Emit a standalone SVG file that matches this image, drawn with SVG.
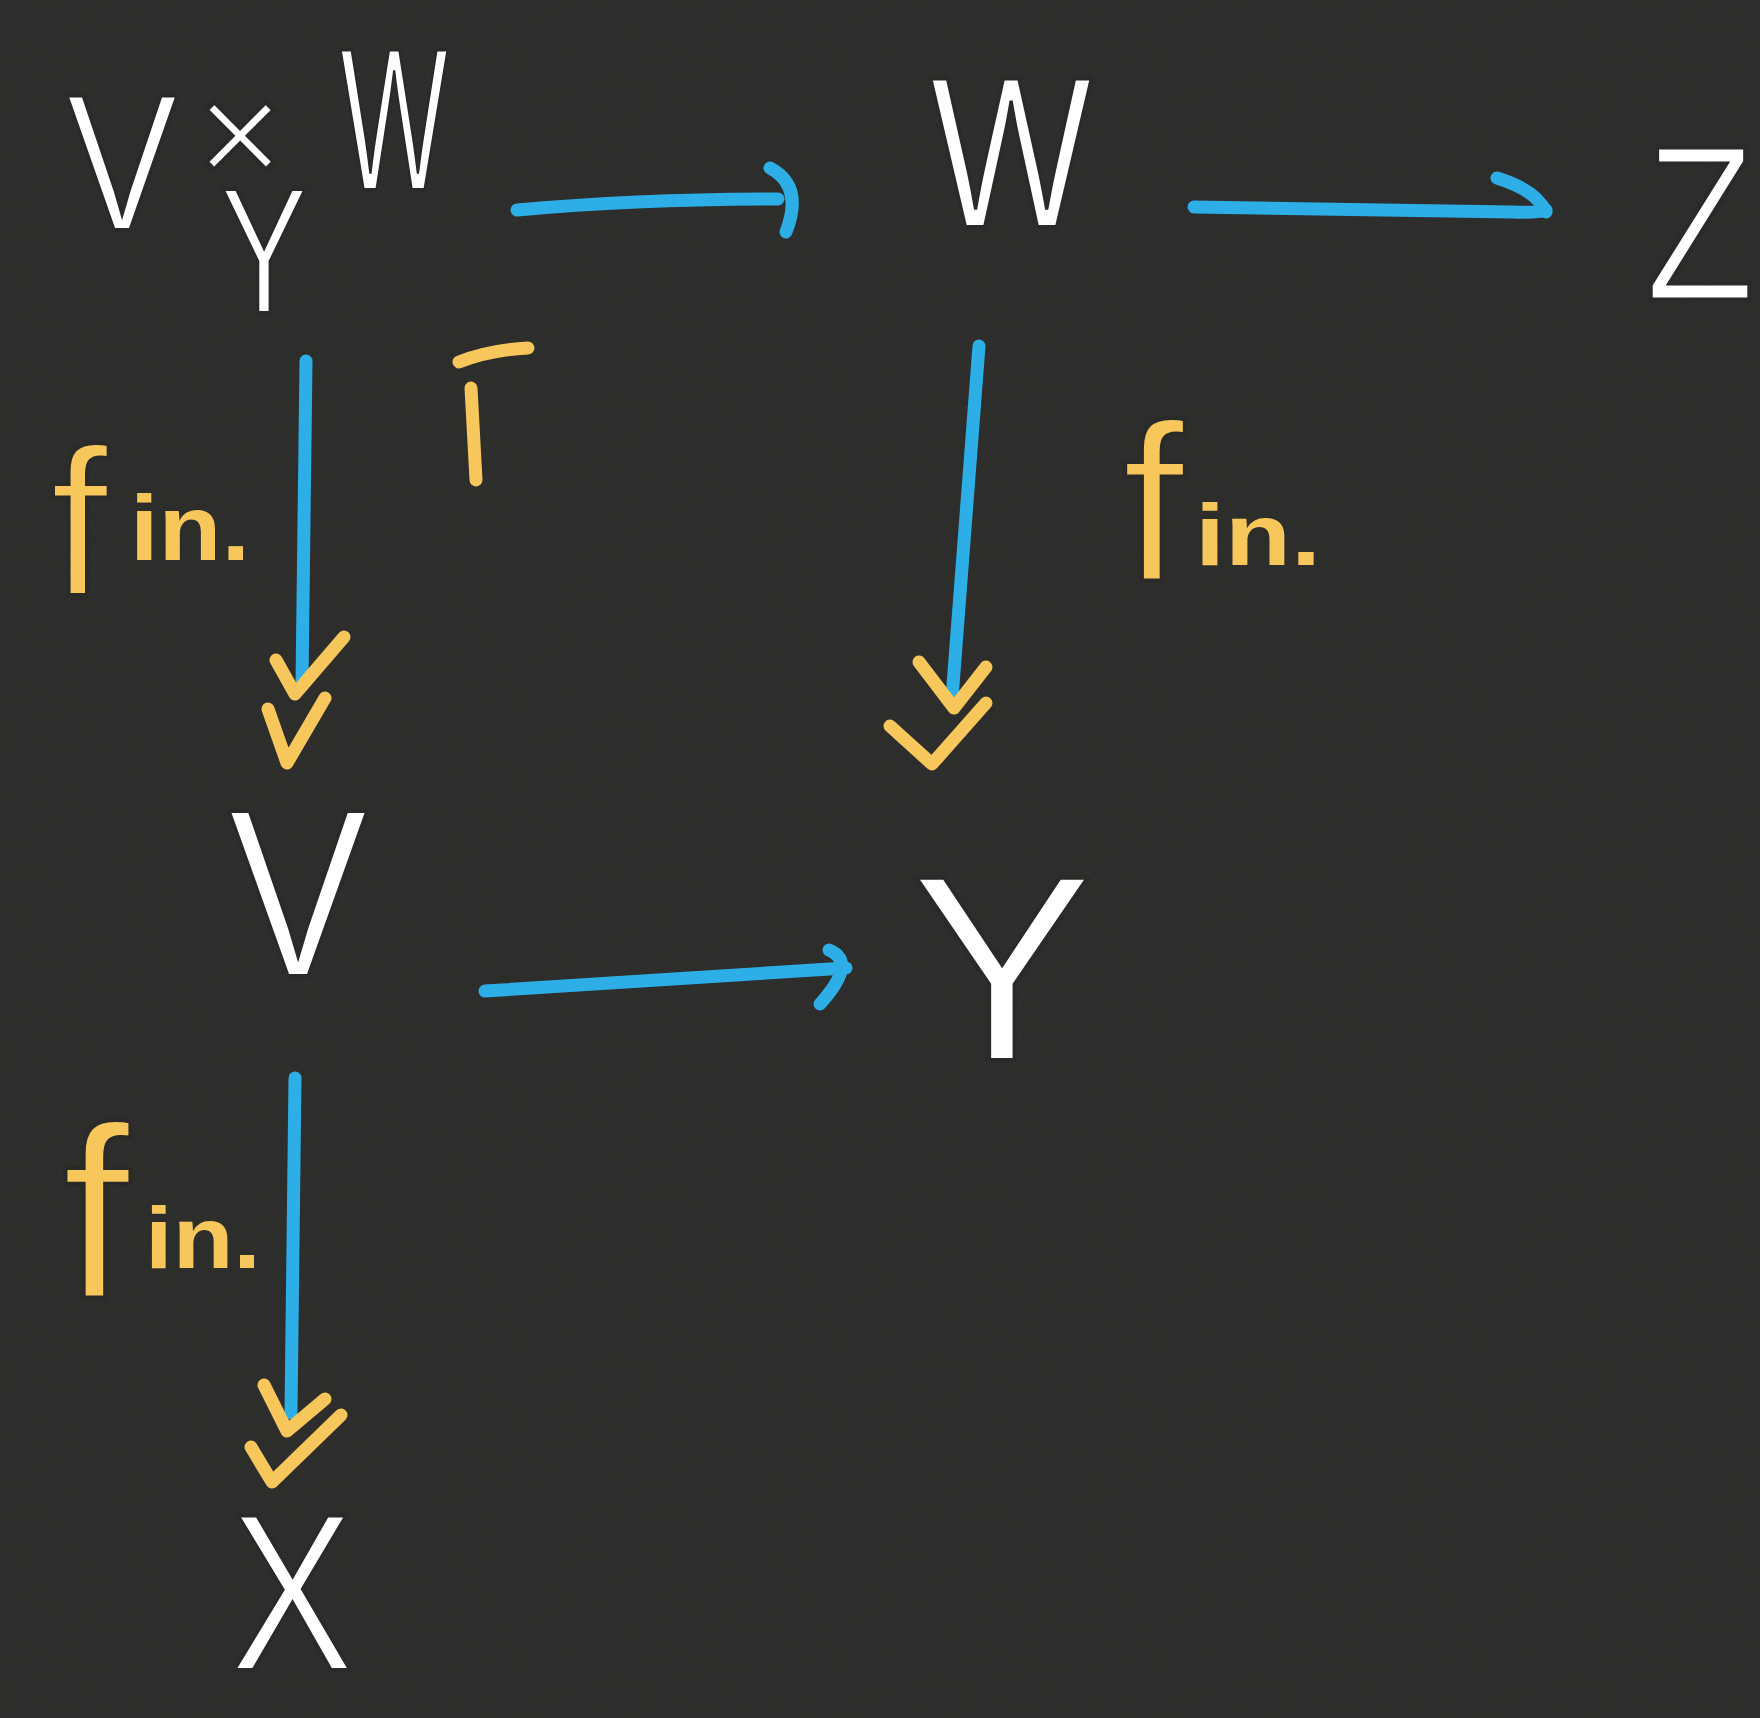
<svg xmlns="http://www.w3.org/2000/svg" width="1760" height="1718" viewBox="0 0 1760 1718">
<defs>
<filter id="grain" x="0" y="0" width="100%" height="100%">
  <feTurbulence type="fractalNoise" baseFrequency="0.8" numOctaves="2" seed="3" result="t"/>
  <feColorMatrix in="t" type="matrix" values="0 0 0 0 0.5  0 0 0 0 0.5  0 0 0 0 0.5  0.6 0 0 0 -0.1"/>
</filter>
</defs>
<style>
.n{font-family:"Liberation Sans",Arial,sans-serif;fill:#ffffff;stroke:#2a2a29;stroke-width:4;paint-order:normal}
.f{font-family:"Liberation Sans",Arial,sans-serif;fill:#f7c75b;stroke:#2a2a29;stroke-width:4;paint-order:normal}
.i{font-family:"Liberation Sans",Arial,sans-serif;font-weight:bold;fill:#f7c75b}
.b{fill:none;stroke:#2daee6;stroke-width:13;stroke-linecap:round;stroke-linejoin:round}
.y{fill:none;stroke:#f7c75b;stroke-width:13;stroke-linecap:round;stroke-linejoin:round}
</style>
<rect width="1760" height="1718" fill="#2a2a29"/>
<rect width="1760" height="1718" filter="url(#grain)" opacity="0.12"/>
<g id="connectors">
  <g id="e-A-B"><path class="b" d="M517 210 Q640 199 778 199"/><path class="b" d="M770 168 Q804 186 786 232"/></g>
  <g id="e-B-C"><path class="b" d="M1194 207 L1512 212 Q1538 213 1546 210"/><path class="b" d="M1497 178 Q1536 190 1546 212"/></g>
  <g id="e-A-D"><path class="b" d="M306 361 L302 683"/><path class="y" d="M276 660 L295 694 L344 637"/><path class="y" d="M268 709 L287 763 L325 698"/></g>
  <g id="e-B-E"><path class="b" d="M979 346 L952 698"/><path class="y" d="M919 662 L954 708 L986 667"/><path class="y" d="M890 726 L932 764 L986 703"/></g>
  <g id="e-D-E"><path class="b" d="M485 991 L846 968"/><path class="b" d="M829 950 Q858 962 820 1004"/></g>
  <g id="e-D-F"><path class="b" d="M295 1078 L291 1413"/><path class="y" d="M264 1385 L287 1431 L325 1399"/><path class="y" d="M251 1447 L272 1482 L341 1415"/></g>
  <g id="pullback"><path class="y" d="M459 362 Q490 350 528 348"/><path class="y" d="M471 388 L476 480"/></g>
</g>
<g id="node-A">
  <text class="n" x="66" y="230" font-size="195" textLength="112" lengthAdjust="spacingAndGlyphs">V</text>
  <text class="n" x="240" y="186" font-size="150" text-anchor="middle" stroke-width="0">×</text>
  <text class="n" x="340" y="190" font-size="205" textLength="108" lengthAdjust="spacingAndGlyphs">W</text>
  <text class="n" x="220" y="313" font-size="180" textLength="88" lengthAdjust="spacingAndGlyphs">Y</text>
</g>
<g id="node-C"><text class="n" transform="translate(1645 300) scale(1 1.24)" x="0" y="0" font-size="180">Z</text></g>
<g id="node-B"><text class="n" x="930" y="227" font-size="215" textLength="162" lengthAdjust="spacingAndGlyphs">W</text></g>
<g id="node-D"><text class="n" x="228" y="976" font-size="240" textLength="140" lengthAdjust="spacingAndGlyphs">V</text></g>
<g id="node-E"><text class="n" x="910" y="1060" font-size="265" textLength="184" lengthAdjust="spacingAndGlyphs">Y</text></g>
<g id="node-F"><text class="n" x="230" y="1670" font-size="225" textLength="124" lengthAdjust="spacingAndGlyphs">X</text></g>
<g id="label-AD"><text><tspan class="f" x="50" y="595" font-size="210">f</tspan><tspan class="i" x="130" y="560" font-size="92" textLength="120" lengthAdjust="spacingAndGlyphs">in.</tspan></text></g>
<g id="label-BE"><text><tspan class="f" x="1122" y="581" font-size="225">f</tspan><tspan class="i" x="1195" y="565" font-size="88" textLength="126" lengthAdjust="spacingAndGlyphs">in.</tspan></text></g>
<g id="label-DF"><text><tspan class="f" x="62" y="1298" font-size="245">f</tspan><tspan class="i" x="145" y="1268" font-size="88" textLength="116" lengthAdjust="spacingAndGlyphs">in.</tspan></text></g>
</svg>
